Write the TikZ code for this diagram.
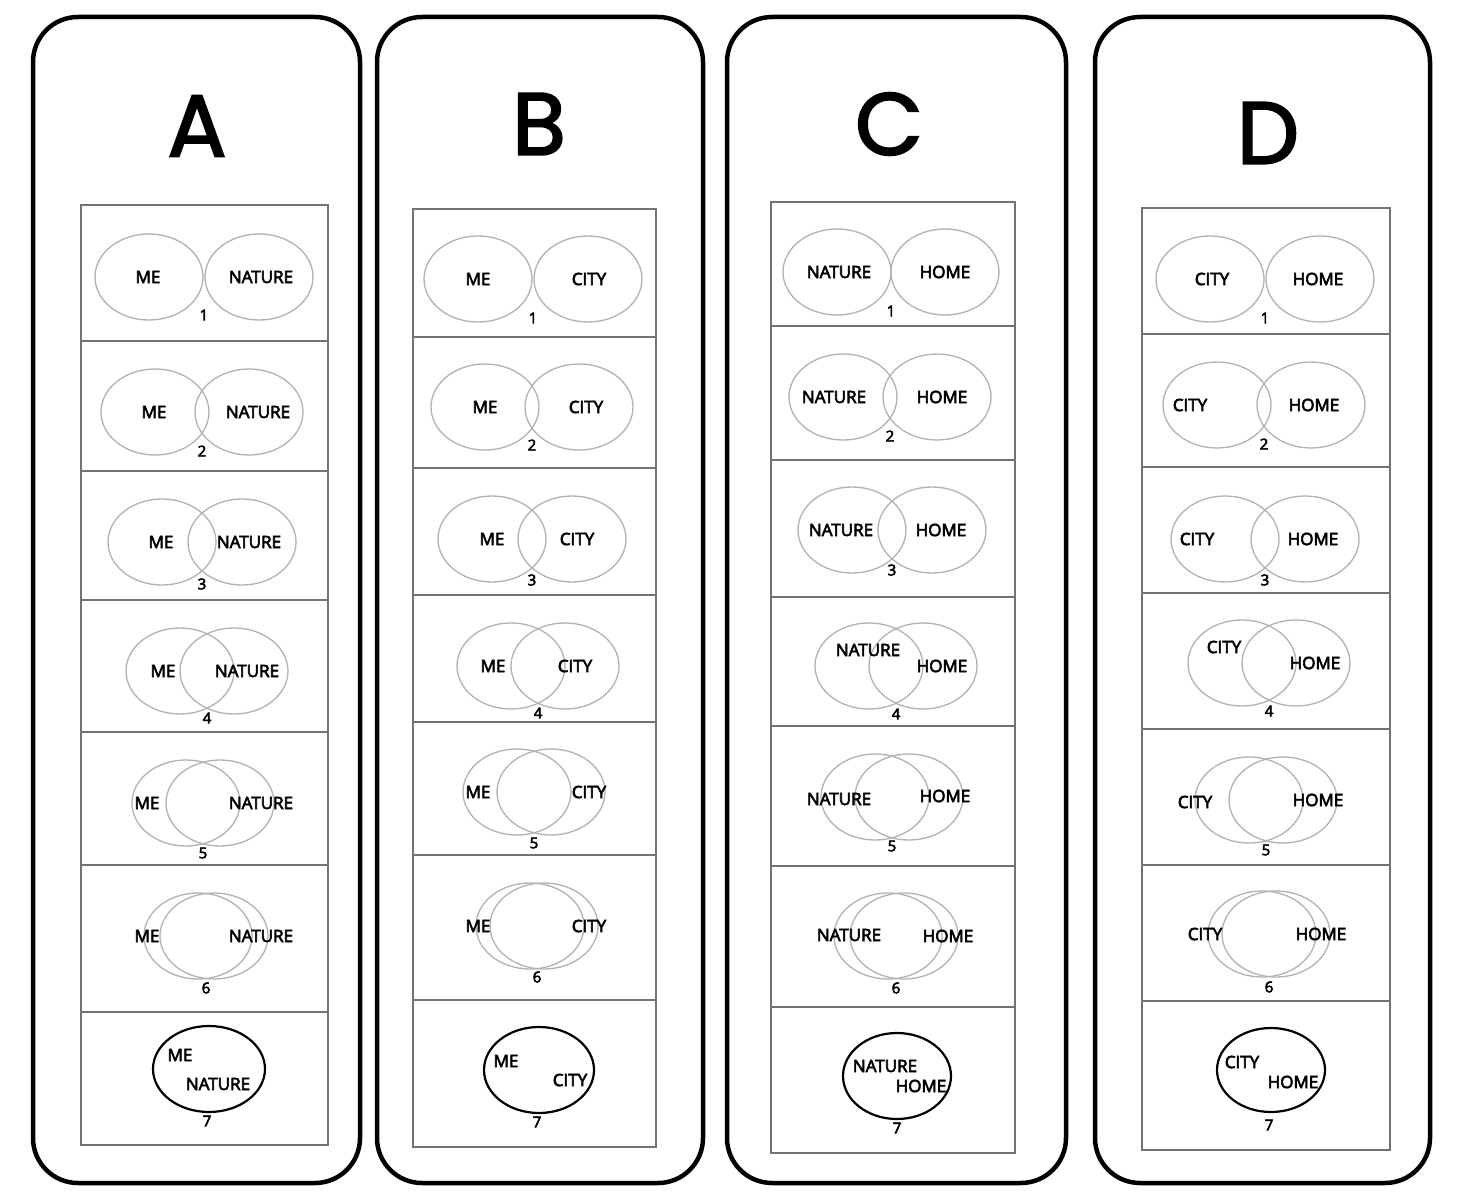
\documentclass[tikz,border=0pt]{standalone}
\usepackage{fontspec}
\setmainfont{Open Sans}
\newfontfamily\wordfont{Open Sans}[FakeBold=3.5]
\newfontfamily\letterfont{Poppins}[FakeBold=2.2]

\tikzset{
  panel/.style={draw=black, line width=4.5pt, rounded corners=45pt},
  letter/.style={font=\letterfont\fontsize{88}{90}\selectfont},
  rowbox/.style={draw=black!55, line width=1.4pt},
  venn/.style={draw=black!30, line width=1.3pt},
  onevenn/.style={draw=black, line width=2.2pt},
  word/.style={font=\wordfont\fontsize{17}{19}\selectfont, inner sep=0pt},
  num/.style={font=\wordfont\fontsize{15}{17}\selectfont, inner sep=0pt}
}

% #1 panel, #2 left word, #3 right word, #4 rows n/cx/cy/d/lx/ly/rx/ry/ny
\newcommand{\vennrows}[4]{%
  \foreach \n/\cx/\cy/\d/\lx/\ly/\rx/\ry/\ny in {#4} {
    \draw[venn] (\cx-\d,\cy) ellipse [x radius=54pt, y radius=43pt];
    \draw[venn] (\cx+\d,\cy) ellipse [x radius=54pt, y radius=43pt];
    \node[word] (#1-l\n) at (\lx,\ly) {#2};
    \node[word] (#1-r\n) at (\rx,\ry) {#3};
    \node[num] (#1-n\n) at (\cx,\ny) {\n};
  }}

\begin{document}
\begin{tikzpicture}[x=1pt, y=-1pt]
  \useasboundingbox[fill=white] (0,0) rectangle (1465,1201);

  % panel A
  \draw[panel] (33,17) rectangle (360,1183);
  \node[letter] (A) at (197,126) {A};
  \foreach \t/\b in {205/341, 341/471, 471/600, 600/732, 732/865, 865/1012, 1012/1145}
    \draw[rowbox] (81,\t) rectangle (328,\b);
  \vennrows{A}{ME}{NATURE}{1/204/277/55/148/277/261/277/315,
    2/202/412/47/154/412/258/412/451,
    3/202/542/40/161/542/249/542/584,
    4/207/671/27/163/671/247/671/718,
    5/203/803/17/147/803/261/803/853,
    6/206/936/8/147/936/261/936/988}
  \draw[onevenn] (209,1069) ellipse [x radius=56pt, y radius=43pt];
  \node[word] (A-l7) at (180,1055) {ME};
  \node[word] (A-r7) at (218,1084) {NATURE};
  \node[num] (A-n7) at (207,1121) {7};

  % panel B
  \draw[panel] (377,17) rectangle (703,1183);
  \node[letter] (B) at (539,124) {B};
  \foreach \t/\b in {209/337, 337/468, 468/595, 595/722, 722/855, 855/1000, 1000/1147}
    \draw[rowbox] (413,\t) rectangle (656,\b);
  \vennrows{B}{ME}{CITY}{1/533/279/55/478/279/589/279/318,
    2/532/407/47/485/407/586/407/445,
    3/532/539/40/492/539/577/539/580,
    4/538/666/27/493/666/575/666/713,
    5/534/792/17/478/792/589/792/843,
    6/537/926/7/478/926/589/926/977}
  \draw[onevenn] (539,1070) ellipse [x radius=55pt, y radius=43pt];
  \node[word] (B-l7) at (506,1061) {ME};
  \node[word] (B-r7) at (570,1080) {CITY};
  \node[num] (B-n7) at (537,1122) {7};

  % panel C
  \draw[panel] (727,17) rectangle (1066,1183);
  \node[letter] (C) at (889,124) {C};
  \foreach \t/\b in {202/326, 326/460, 460/597, 597/726, 726/866, 866/1007, 1007/1153}
    \draw[rowbox] (771,\t) rectangle (1015,\b);
  \vennrows{C}{NATURE}{HOME}{1/891/272/54/839/272/945/272/311,
    2/890/397/47/834/397/942/397/436,
    3/892/530/40/841/530/941/530/570,
    4/896/666/27/868/650/942/666/714,
    5/892/797/17/839/799/945/796/846,
    6/896/936/8/849/935/948/936/988}
  \draw[onevenn] (897,1076) ellipse [x radius=54pt, y radius=43pt];
  \node[word] (C-l7) at (885,1066) {NATURE};
  \node[word] (C-r7) at (921,1086) {HOME};
  \node[num] (C-n7) at (897,1128) {7};

  % panel D
  \draw[panel] (1095,17) rectangle (1430,1183);
  \node[letter] (D) at (1268,133) {D};
  \foreach \t/\b in {208/334, 334/467, 467/593, 593/729, 729/865, 865/1001, 1001/1150}
    \draw[rowbox] (1142,\t) rectangle (1390,\b);
  \vennrows{D}{CITY}{HOME}{1/1265/279/55/1212/279/1318/279/318,
    2/1264/405/47/1190/405/1314/405/444,
    3/1265/539/40/1197/539/1313/539/580,
    4/1269/663/27/1224/647/1315/663/711,
    5/1266/800/17/1195/802/1318/800/850,
    6/1269/934/7/1205/934/1321/934/987}
  \draw[onevenn] (1271,1070) ellipse [x radius=54pt, y radius=42pt];
  \node[word] (D-l7) at (1242,1062) {CITY};
  \node[word] (D-r7) at (1293,1082) {HOME};
  \node[num] (D-n7) at (1269,1125) {7};
\end{tikzpicture}
\end{document}
